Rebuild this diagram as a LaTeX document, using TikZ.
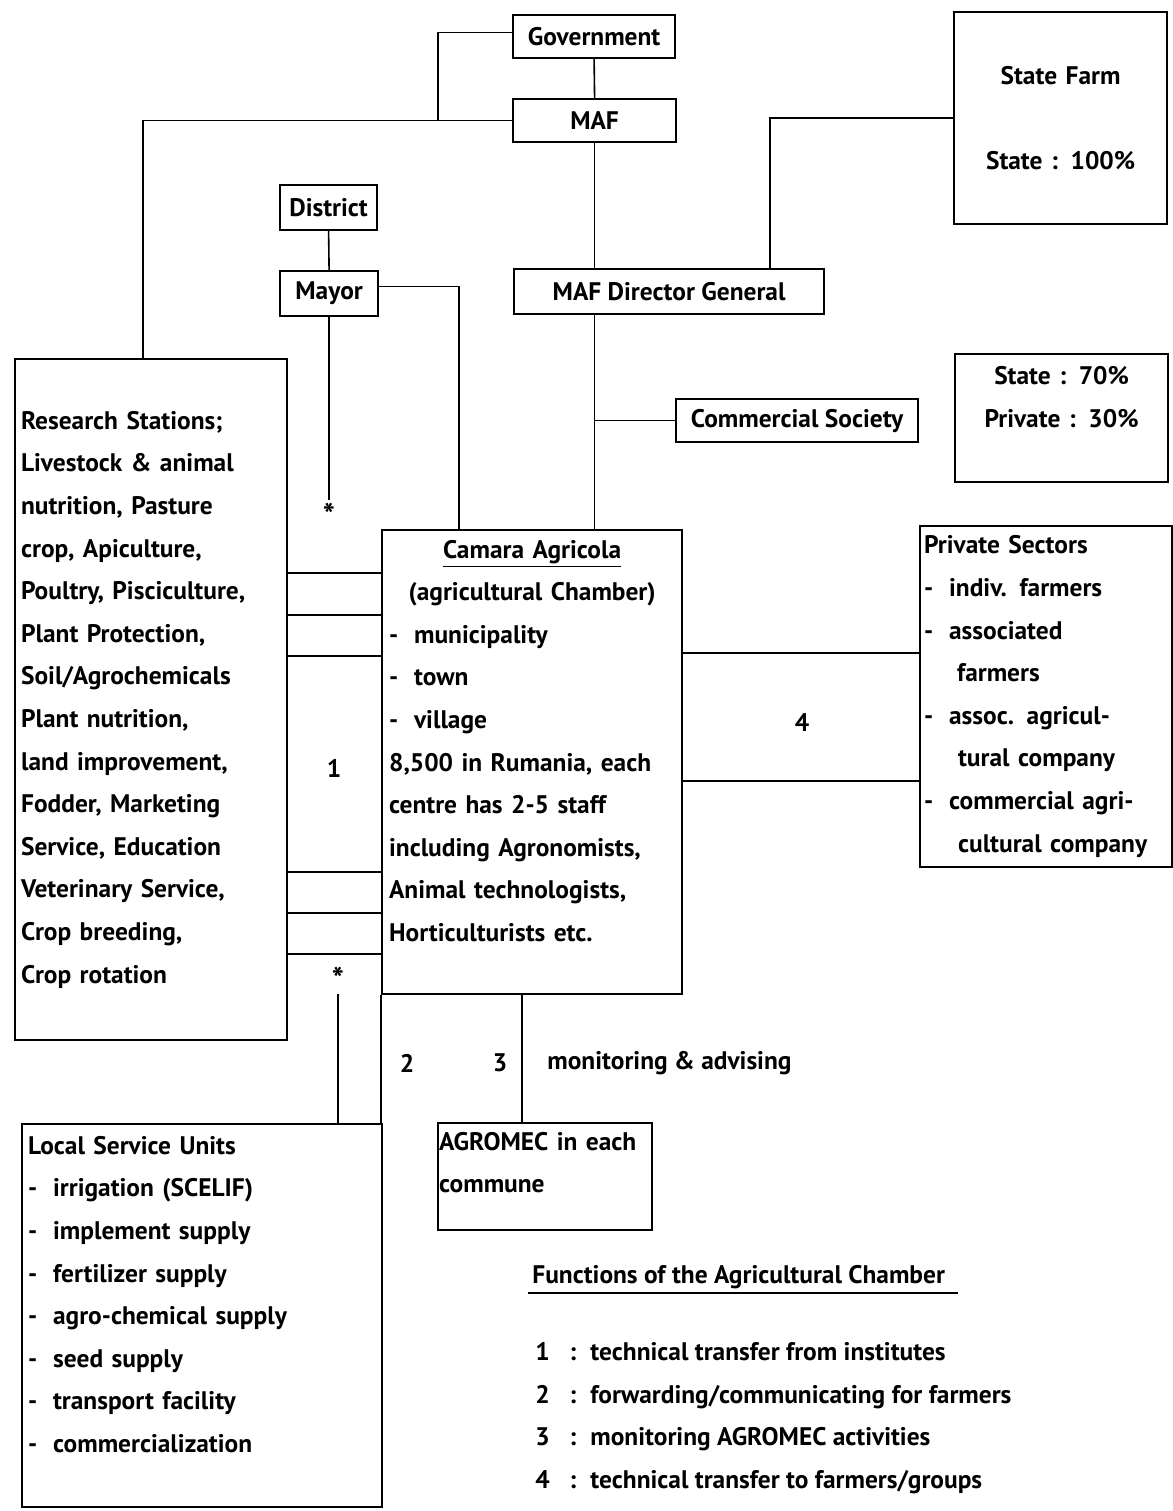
\documentclass[tikz,border=0pt]{standalone}
\usepackage{fontspec}
\setmainfont{PT Sans}
\usetikzlibrary{positioning}

\begin{document}
\begin{tikzpicture}[x=0.5pt,y=-0.5pt,
    font=\bfseries\fontsize{12.7}{21.3}\selectfont,
    box/.style={draw, line width=1.1pt, inner sep=0pt, anchor=north west},
    txtbox/.style={box, align=left, inner xsep=3pt},
    link/.style={line width=0.8pt},
    starmark/.style={inner sep=0pt, outer ysep=1.5pt, font=\bfseries\fontsize{16}{16}\selectfont}]
\useasboundingbox (0,0) rectangle (1173,1511);

% top of the hierarchy
\node[box, minimum width=81pt, minimum height=21.5pt] (gov) at (512,14) {Government};
\node[box, minimum width=81.5pt, minimum height=21.5pt] (maf) at (512,98) {MAF};
\node[box, minimum width=48.5pt, minimum height=22.5pt] (district) at (279,184) {District};
\node[box, minimum width=49pt, minimum height=22.5pt] (mayor) at (279,270) {Mayor};
\node[box, minimum width=155pt, minimum height=22.5pt] (dirgen) at (513,268) {MAF Director General};
\node[box, align=center, text width=100pt, minimum width=106.5pt, minimum height=106pt] (statefarm) at (953,11)
  {State Farm\\[21.3pt]State : 100\%};
\node[box, minimum width=121pt, minimum height=21.5pt] (comsoc) at (675,398) {Commercial Society};
\node[box, align=center, text width=100pt, minimum width=106.5pt, minimum height=64pt] (state70) at (954,353)
  {State : 70\%\\Private : 30\%\\\mbox{}};

% research stations
\node[txtbox, text width=130pt, minimum width=136pt, minimum height=340.5pt] (research) at (14,358)
  {Research Stations;\\Livestock \& animal\\nutrition, Pasture\\crop, Apiculture,\\
   Poultry, Pisciculture,\\Plant Protection,\\Soil/Agrochemicals\\Plant nutrition,\\
   land improvement,\\Fodder, Marketing\\Service, Education\\Veterinary Service,\\
   Crop breeding,\\Crop rotation};

% agricultural chamber
\node[txtbox, inner xsep=3.5pt, text width=143pt, minimum width=150pt, minimum height=232pt] (camara) at (381,529)
  {\makebox[\hsize]{\underline{Camara Agricola}}\\
   \makebox[\hsize]{(agricultural Chamber)}\\
   \makebox[12.5pt][l]{-}municipality\\
   \makebox[12.5pt][l]{-}town\\
   \makebox[12.5pt][l]{-}village\\
   8,500 in Rumania, each\\centre has 2-5 staff\\including Agronomists,\\
   Animal technologists,\\Horticulturists etc.\\\mbox{}};

\node[txtbox, inner xsep=2pt, text width=122pt, minimum width=126pt, minimum height=170.5pt] (private) at (919,525)
  {Private Sectors\\
   \makebox[12.5pt][l]{-}indiv. farmers\\
   \makebox[12.5pt][l]{-}associated\\
   \hspace*{16.5pt}farmers\\
   \makebox[12.5pt][l]{-}assoc. agricul-\\
   \hspace*{17pt}tural company\\
   \makebox[12.5pt][l]{-}commercial agri-\\
   \hspace*{17pt}cultural company};

\node[txtbox, text width=174pt, minimum width=180pt, minimum height=191.5pt] (local) at (21,1123)
  {Local Service Units\\
   \makebox[12.5pt][l]{-}irrigation (SCELIF)\\
   \makebox[12.5pt][l]{-}implement supply\\
   \makebox[12.5pt][l]{-}fertilizer supply\\
   \makebox[12.5pt][l]{-}agro-chemical supply\\
   \makebox[12.5pt][l]{-}seed supply\\
   \makebox[12.5pt][l]{-}transport facility\\
   \makebox[12.5pt][l]{-}commercialization\\\mbox{}};

\node[txtbox, inner xsep=0.5pt, text width=106pt, minimum width=107pt, minimum height=53.5pt] (agromec) at (437,1122)
  {AGROMEC in each\\commune\\[-7pt]\mbox{}};

% marks and numbers
\node[starmark] (star1) at (329,515) {*};
\node[starmark] (star2) at (338,979) {*};
\node (n1) at (334,768) {1};
\node (n2) at (407,1063) {2};
\node (n3) at (500,1063) {3};
\node (n4) at (802,723) {4};
\node[anchor=west, inner sep=0pt] (monit) at (547,1063) {monitoring \& advising};

% connectors
\coordinate (j1) at (maf.west -| 438,0);
\draw[link] (gov.south) -- (maf.north);
\draw[link] ([yshift=2pt]gov.west) -| (j1);
\draw[link] (maf.west) -| (research.north -| 143,0);
\draw[link] (district.south) -- (mayor.north);
\draw[link] (mayor.south) -- (mayor.south |- star1.north);
\draw[link] ([yshift=3.5pt]mayor.east) -| (camara.north -| 459,0);
\draw[link] (maf.south) -- (maf.south |- dirgen.north);
\draw[link] (statefarm.west) -| (dirgen.north -| 770,0);
\draw[link] (maf.south |- dirgen.south) -- (maf.south |- camara.north);
\draw[link] (comsoc.west) -- (comsoc.west -| maf.south);
\foreach \y in {573,615,656,872,913,954}
  \draw[link] (research.east |- 0,\y) -- (camara.west |- 0,\y);
\foreach \y in {653,781}
  \draw[link] (camara.east |- 0,\y) -- (private.west |- 0,\y);
\draw[link] (star2.south) -- (star2.south |- local.north);
\draw[link] (camara.south west) -- (camara.south west |- local.north);
\draw[link] (camara.south -| 522,0) -- (agromec.north -| 522,0);

% legend
\node[anchor=west, inner sep=0pt] (title) at (532,1277) {Functions of the Agricultural Chamber};
\draw[link] ([xshift=-2pt,yshift=-2pt]title.south west) -- ([xshift=6.5pt,yshift=-2pt]title.south east);
\node[anchor=north west, align=left, inner sep=0pt] (functions) at (535,1342)
  {\makebox[17pt][l]{1}\makebox[10.5pt][l]{:}technical transfer from institutes\\
   \makebox[17pt][l]{2}\makebox[10.5pt][l]{:}forwarding/communicating for farmers\\
   \makebox[17pt][l]{3}\makebox[10.5pt][l]{:}monitoring AGROMEC activities\\
   \makebox[17pt][l]{4}\makebox[10.5pt][l]{:}technical transfer to farmers/groups};
\end{tikzpicture}
\end{document}
